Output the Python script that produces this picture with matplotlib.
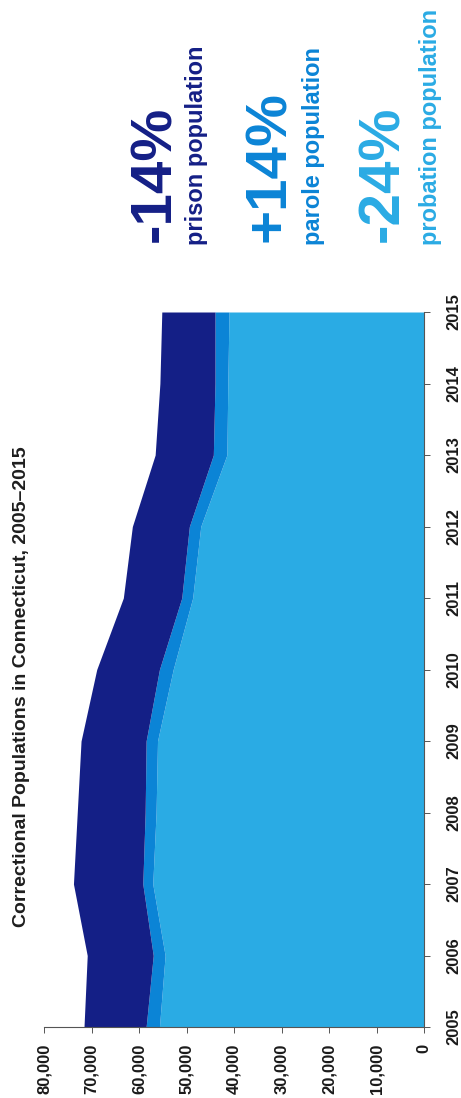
import matplotlib.pyplot as plt
from matplotlib.ticker import FuncFormatter

# Connecticut correctional populations, 2005-2015
years = [2005, 2006, 2007, 2008, 2009, 2010, 2011, 2012, 2013, 2014, 2015]
probation = [55700, 54500, 57100, 56400, 56100, 52800, 48700, 47000, 41500, 41300, 41050]
parole = [2800, 2500, 2100, 2300, 2400, 2900, 2300, 2400, 2850, 2700, 2950]
prison = [13080, 13900, 14600, 14300, 13700, 13200, 12300, 12000, 12250, 11600, 11200]

value_ticks = [0, 10000, 20000, 30000, 40000, 50000, 60000, 70000, 80000]

changes = ['-14%', '+14%', '-24%']
change_labels = ['prison population', 'parole population', 'probation population']

navy = '#141f86'
mid = '#0b84d6'
light = '#2aabe4'

plt.rcParams['font.family'] = ['Liberation Sans', 'DejaVu Sans']

fig = plt.figure(figsize=(4.61, 10.98), dpi=100)
ax = fig.add_axes([44 / 461, 1 - 1027 / 1098, 380 / 461, 715 / 1098])

# cumulative edges of the stacked bands
edge1 = probation
edge2 = [a + b for a, b in zip(probation, parole)]
edge3 = [a + b for a, b in zip(edge2, prison)]

ax.fill_betweenx(years, 0, edge1, color=light, lw=0)
ax.fill_betweenx(years, edge1, edge2, color=mid, lw=0)
ax.fill_betweenx(years, edge2, edge3, color=navy, lw=0)

ax.set_xlim(80000, 0)
ax.set_ylim(2005, 2015)
ax.set_xticks(value_ticks)
ax.xaxis.set_major_formatter(FuncFormatter(lambda v, p: f'{int(v):,}'))
ax.set_yticks(years)
ax.yaxis.tick_right()

for s in ['top', 'left']:
    ax.spines[s].set_visible(False)
for s in ['bottom', 'right']:
    ax.spines[s].set_color('#555555')
    ax.spines[s].set_linewidth(0.8)

ax.tick_params(axis='x', labelrotation=90, labelsize=12, length=4, width=0.7,
               color='#555555', labelcolor='#1a1a1a', pad=8)
ax.tick_params(axis='y', labelrotation=90, labelsize=12, length=4, width=0.7,
               color='#555555', labelcolor='#1a1a1a', pad=12)
for lab in ax.get_xticklabels():
    lab.set_fontweight('bold')
for lab in ax.get_yticklabels():
    lab.set_fontweight('bold')
    lab.set_verticalalignment('center')

fig.text(13 / 461, 1 - 927 / 1098, 'Correctional Populations in Connecticut, 2005\u20132015',
         rotation=90, ha='left', va='bottom', fontsize=14, fontweight='bold', color='#1e1e1e')

# summary of change, 2005 to 2015
big_x = [128, 243, 356]
small_x = [185, 302, 419]
colors = [navy, mid, light]
for c, lab, bx, sx, col in zip(changes, change_labels, big_x, small_x, colors):
    fig.text(bx / 461, 1 - 242 / 1098, c, rotation=90, ha='left', va='bottom',
             fontsize=42, fontweight='bold', color=col)
    fig.text(sx / 461, 1 - 245 / 1098, lab, rotation=90, ha='left', va='bottom',
             fontsize=17, fontweight='bold', color=col)

fig.savefig('out.png', dpi=100)
